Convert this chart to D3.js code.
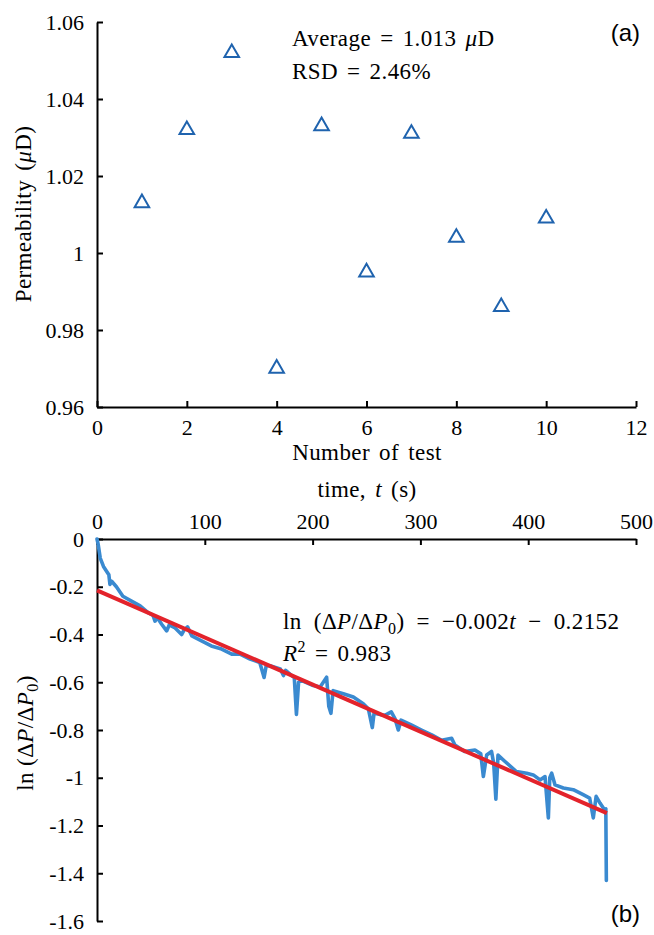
<!DOCTYPE html>
<html>
<head>
<meta charset="utf-8">
<script src="https://cdn.jsdelivr.net/npm/d3@7"></script>
<style>
  body { margin: 0; background: #fff; }
  svg text { font-family: "Liberation Serif", "Times New Roman", serif; fill: #000; }
  .lbl { font-size: 23px; letter-spacing: 0.4px; word-spacing: 3px; }
  .tag { font-family: "Liberation Sans", Arial, sans-serif !important; font-size: 24px; }
</style>
</head>
<body>
<svg width="654" height="935"></svg>
<script>
// (a) permeability of repeated tests
var testNumbers = [1, 2, 3, 4, 5, 6, 7, 8, 9, 10];
var permeability = [1.013, 1.032, 1.052, 0.970, 1.033, 0.995, 1.031, 1.004, 0.986, 1.009];
var testTicks = [0, 2, 4, 6, 8, 10, 12];
var permTicks = [0.96, 0.98, 1.00, 1.02, 1.04, 1.06];
var permTickLabels = ["0.96", "0.98", "1", "1.02", "1.04", "1.06"];

// (b) pressure decay
var timeSec = [0, 1, 3, 6, 9, 11, 12, 13.6, 18, 24, 32, 40, 47.6, 52, 53.8, 56, 60, 64.6, 67, 72,
    78.5, 81, 84, 88, 97, 106, 115.6, 125, 132.7, 142, 151, 155, 157, 160.5, 170, 173, 175, 180.6, 183, 185,
    187, 190, 200.6, 207, 213, 215, 217, 219, 228.5, 237.8, 247, 251.7, 255.4, 257, 267, 273, 276.4, 279.5, 282, 292,
    301, 310.5, 319.7, 329, 332, 341, 350.6, 356, 358.4, 361.5, 366, 368, 370, 372, 378.5, 389, 398.6, 404.7, 411, 415.6,
    418.7, 420, 421.8, 424.9, 432.6, 441.8, 451, 457, 460.4, 463, 466.6, 470.6, 472, 472.5];
var lnRatio = [0, -0.02, -0.08, -0.115, -0.136, -0.15, -0.19, -0.177, -0.2, -0.24, -0.26, -0.28, -0.309, -0.32, -0.344, -0.33, -0.357, -0.385, -0.36, -0.371,
    -0.4, -0.38, -0.368, -0.406, -0.427, -0.448, -0.461, -0.482, -0.482, -0.503, -0.517, -0.58, -0.53, -0.531, -0.544, -0.572, -0.55, -0.572, -0.58, -0.735,
    -0.6, -0.593, -0.614, -0.62, -0.579, -0.7, -0.73, -0.635, -0.648, -0.662, -0.69, -0.711, -0.79, -0.73, -0.739, -0.724, -0.752, -0.8, -0.759, -0.78,
    -0.8, -0.82, -0.843, -0.835, -0.863, -0.89, -0.884, -0.9, -0.995, -0.905, -0.89, -0.94, -1.09, -0.905, -0.932, -0.974, -0.981, -0.988, -1.009, -0.995,
    -1.168, -1.0, -0.981, -1.03, -1.043, -1.05, -1.071, -1.085, -1.168, -1.078, -1.106, -1.133, -1.13, -1.43];
var fitTime = [0, 473];
var fitValue = [-0.2152, -1.148];
var timeTicks = [0, 100, 200, 300, 400, 500];
var lnTicks = [0, -0.2, -0.4, -0.6, -0.8, -1, -1.2, -1.4, -1.6];
var lnTickLabels = ["0", "-0.2", "-0.4", "-0.6", "-0.8", "-1", "-1.2", "-1.4", "-1.6"];

var svg = d3.select("svg");

var left = 97, right = 636;
var serif = "Liberation Serif, Times New Roman, serif";

function styleAxis(g) {
    g.attr("font-family", serif).attr("font-size", 22);
    g.selectAll("path, line").attr("stroke", "#000").attr("stroke-width", 2);
    g.selectAll("text").attr("fill", "#000");
}

// ---- panel (a)
var xa = d3.scaleLinear().domain([0, 12]).range([left, right]);
var ya = d3.scaleLinear().domain([0.96, 1.06]).range([407, 22]);

svg.append("g")
    .attr("transform", "translate(0," + ya(0.96) + ")")
    .call(d3.axisBottom(xa).tickValues(testTicks).tickSizeInner(-6).tickSizeOuter(0).tickPadding(12))
    .call(styleAxis);

svg.append("g")
    .attr("transform", "translate(" + left + ",0)")
    .call(d3.axisLeft(ya).tickValues(permTicks).tickSizeInner(-6).tickSizeOuter(0).tickPadding(13)
        .tickFormat(function (d, i) { return permTickLabels[i]; }))
    .call(styleAxis);

svg.append("g")
    .selectAll("path")
    .data(testNumbers)
    .enter().append("path")
    .attr("transform", function (d, i) { return "translate(" + xa(d) + "," + ya(permeability[i]) + ")"; })
    .attr("d", d3.symbol().type(d3.symbolTriangle).size(92))
    .attr("fill", "none")
    .attr("stroke", "#1f63ae")
    .attr("stroke-width", 2);

svg.append("text").attr("class", "lbl")
    .attr("transform", "translate(31,214) rotate(-90)")
    .attr("text-anchor", "middle")
    .html("Permeability (<tspan font-style='italic'>μ</tspan>D)");

svg.append("text").attr("class", "lbl")
    .attr("x", 367).attr("y", 460)
    .attr("text-anchor", "middle")
    .text("Number of test");

svg.append("text").attr("class", "lbl")
    .attr("x", 292).attr("y", 46)
    .html("Average = 1.013 <tspan font-style='italic'>μ</tspan>D");

svg.append("text").attr("class", "lbl")
    .attr("x", 292).attr("y", 79)
    .text("RSD = 2.46%");

svg.append("text").attr("class", "tag")
    .attr("x", 640).attr("y", 41)
    .attr("text-anchor", "end")
    .text("(a)");

// ---- panel (b)
var xb = d3.scaleLinear().domain([0, 500]).range([left, right]);
var yb = d3.scaleLinear().domain([-1.6, 0]).range([921, 539]);

svg.append("g")
    .attr("transform", "translate(0," + yb(0) + ")")
    .call(d3.axisTop(xb).tickValues(timeTicks).tickSizeInner(-6).tickSizeOuter(0).tickPadding(10))
    .call(styleAxis);

svg.append("g")
    .attr("transform", "translate(" + left + ",0)")
    .call(d3.axisLeft(yb).tickValues(lnTicks).tickSizeInner(-6).tickSizeOuter(0).tickPadding(13)
        .tickFormat(function (d, i) { return lnTickLabels[i]; }))
    .call(styleAxis);

var decay = timeSec.map(function (t, i) { return [t, lnRatio[i]]; });
var fit = fitTime.map(function (t, i) { return [t, fitValue[i]]; });

var line = d3.line()
    .x(function (d) { return xb(d[0]); })
    .y(function (d) { return yb(d[1]); });

svg.append("path")
    .datum(decay)
    .attr("d", line)
    .attr("fill", "none")
    .attr("stroke", "#3a8ad0")
    .attr("stroke-width", 3.6)
    .attr("stroke-linejoin", "round")
    .attr("stroke-linecap", "round");

svg.append("path")
    .datum(fit)
    .attr("d", line)
    .attr("fill", "none")
    .attr("stroke", "#e3232b")
    .attr("stroke-width", 4);

svg.append("text").attr("class", "lbl")
    .attr("x", 367).attr("y", 497)
    .attr("text-anchor", "middle")
    .html("time, <tspan font-style='italic'>t</tspan> (s)");

svg.append("text").attr("class", "lbl")
    .attr("transform", "translate(33,733) rotate(-90)")
    .attr("text-anchor", "middle")
    .style("word-spacing", "0px")
    .html("ln (Δ<tspan font-style='italic'>P</tspan>/Δ<tspan font-style='italic'>P</tspan><tspan font-size='16' dy='5'>0</tspan><tspan dy='-5'>)</tspan>");

svg.append("text").attr("class", "lbl")
    .attr("x", 283).attr("y", 629)
    .style("word-spacing", "6px")
    .html("ln (Δ<tspan font-style='italic'>P</tspan>/Δ<tspan font-style='italic'>P</tspan><tspan font-size='16' dy='5'>0</tspan><tspan dy='-5'>) = −0.002</tspan><tspan font-style='italic'>t</tspan> − 0.2152");

svg.append("text").attr("class", "lbl")
    .attr("x", 283).attr("y", 661)
    .html("<tspan font-style='italic'>R</tspan><tspan font-size='16' dy='-9'>2</tspan><tspan dy='9'> = 0.983</tspan>");

svg.append("text").attr("class", "tag")
    .attr("x", 640).attr("y", 922)
    .attr("text-anchor", "end")
    .text("(b)");
</script>
</body>
</html>
